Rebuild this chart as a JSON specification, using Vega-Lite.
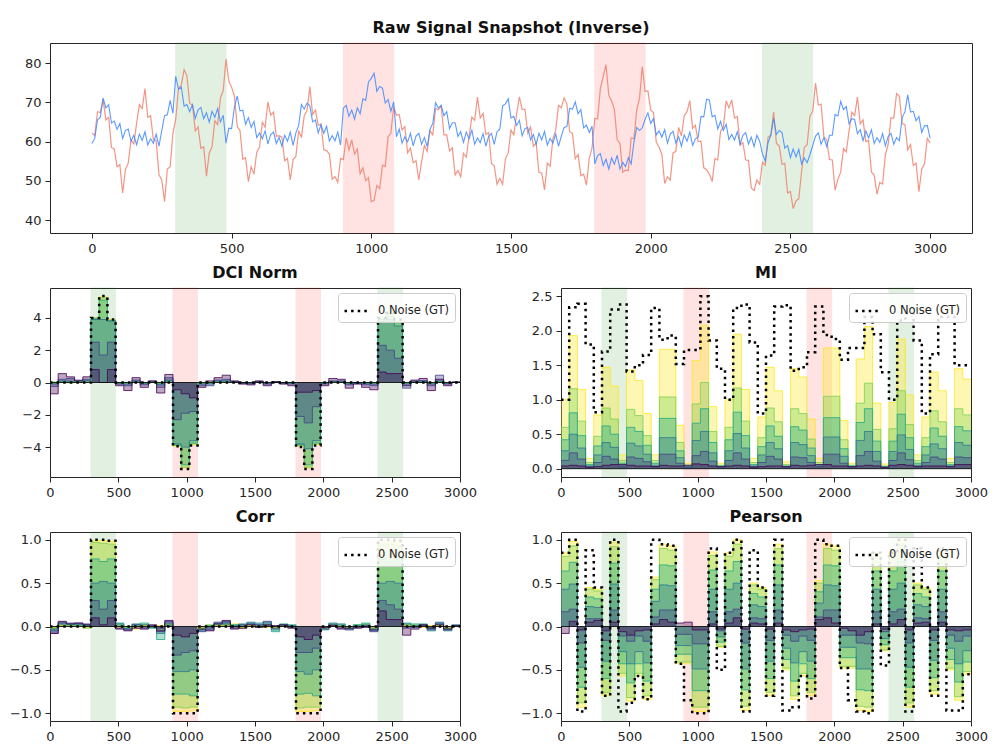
{
  "$schema": "https://vega.github.io/schema/vega-lite/v6.json",
  "padding": {"left": 6, "top": 19, "right": 5, "bottom": 5},
  "background": "white",
  "datasets": {
    "ev": [
      {"x0": 300, "x1": 480, "k": "g"},
      {"x0": 900, "x1": 1080, "k": "r"},
      {"x0": 1800, "x1": 1980, "k": "r"},
      {"x0": 2400, "x1": 2580, "k": "g"}
    ],
    "sig": [
      {"t":0,"r":62.2,"b":59.5},{"t":10,"r":61.5,"b":60.8},{"t":20,"r":67.6,"b":65.5},{"t":30,"r":67.4,"b":66.2},{"t":40,"r":70.6,"b":71.1},{"t":50,"r":65.5,"b":68.6},{"t":60,"r":66.2,"b":69.4},{"t":70,"r":58.5,"b":64.7},{"t":80,"r":58.1,"b":65.2},{"t":90,"r":53.6,"b":63.1},
      {"t":100,"r":54.1,"b":64.6},{"t":110,"r":46.9,"b":60.8},{"t":120,"r":52.9,"b":62.8},{"t":130,"r":54.5,"b":63.2},{"t":140,"r":60.4,"b":60.1},{"t":150,"r":59.4,"b":61.6},{"t":160,"r":64.7,"b":59.2},{"t":170,"r":69.4,"b":61.9},{"t":180,"r":68.4,"b":60.3},{"t":190,"r":73.5,"b":62.5},
      {"t":200,"r":66.2,"b":59.1},{"t":210,"r":66.6,"b":60.7},{"t":220,"r":60.5,"b":59.6},{"t":230,"r":60.2,"b":61.9},{"t":240,"r":51.5,"b":58.8},{"t":250,"r":50.2,"b":62.8},{"t":260,"r":44.7,"b":66.6},{"t":270,"r":53,"b":66.8},{"t":280,"r":53.6,"b":70.5},{"t":290,"r":62.1,"b":67.2},
      {"t":300,"r":65.7,"b":76.6},{"t":310,"r":73.5,"b":73.3},{"t":320,"r":74.4,"b":73.9},{"t":330,"r":78.3,"b":69},{"t":340,"r":76.8,"b":69.4},{"t":350,"r":69.7,"b":67.6},{"t":360,"r":69.3,"b":69.4},{"t":370,"r":62.7,"b":65.9},{"t":380,"r":63.7,"b":68.1},{"t":390,"r":58.3,"b":68.7},
      {"t":400,"r":58.7,"b":65.8},{"t":410,"r":51.2,"b":67.3},{"t":420,"r":57.1,"b":64.9},{"t":430,"r":58.7,"b":67.7},{"t":440,"r":65.3,"b":66.2},{"t":450,"r":64.3,"b":68.4},{"t":460,"r":71.1,"b":65},{"t":470,"r":73,"b":66.7},{"t":480,"r":81,"b":59.6},{"t":490,"r":75.4,"b":63.4},
      {"t":500,"r":73.8,"b":63.3},{"t":510,"r":71.6,"b":68.8},{"t":520,"r":63.8,"b":71.6},{"t":530,"r":62.8,"b":67.8},{"t":540,"r":55.5,"b":68},{"t":550,"r":55.9,"b":64.4},{"t":560,"r":49.8,"b":66.1},{"t":570,"r":53.6,"b":63.6},{"t":580,"r":51.7,"b":65.1},{"t":590,"r":57.3,"b":61},
      {"t":600,"r":58.6,"b":62.2},{"t":610,"r":64.9,"b":60.7},{"t":620,"r":63.6,"b":62.7},{"t":630,"r":70.1,"b":59.4},{"t":640,"r":66.7,"b":61.8},{"t":650,"r":67.5,"b":62.4},{"t":660,"r":61.3,"b":59.5},{"t":670,"r":61.5,"b":61.1},{"t":680,"r":61.1,"b":58.8},{"t":690,"r":55.1,"b":61.6},
      {"t":700,"r":55.7,"b":60.1},{"t":710,"r":50.2,"b":62.4},{"t":720,"r":55.4,"b":59},{"t":730,"r":56.2,"b":62.2},{"t":740,"r":62.8,"b":64.1},{"t":750,"r":61,"b":69.4},{"t":760,"r":66.6,"b":68.3},{"t":770,"r":67.9,"b":69.8},{"t":780,"r":74,"b":69.1},{"t":790,"r":66.9,"b":65},
      {"t":800,"r":68,"b":65.5},{"t":810,"r":64.1,"b":62.2},{"t":820,"r":64.5,"b":64.3},{"t":830,"r":57.9,"b":62.1},{"t":840,"r":57.7,"b":63.9},{"t":850,"r":56.8,"b":60.1},{"t":860,"r":50.4,"b":61.5},{"t":870,"r":51.1,"b":60.2},{"t":880,"r":49.6,"b":62.4},{"t":890,"r":55.7,"b":59.1},
      {"t":900,"r":55.4,"b":68.5},{"t":910,"r":60.9,"b":69.2},{"t":920,"r":57.9,"b":66.4},{"t":930,"r":60.4,"b":68},{"t":940,"r":56.8,"b":65.7},{"t":950,"r":58.1,"b":68.6},{"t":960,"r":51.8,"b":67.1},{"t":970,"r":53.3,"b":70.9},{"t":980,"r":50,"b":70.5},{"t":990,"r":50.8,"b":75.2},
      {"t":1000,"r":44.7,"b":76.1},{"t":1010,"r":45,"b":77.4},{"t":1020,"r":48.8,"b":72.8},{"t":1030,"r":48,"b":74},{"t":1040,"r":54,"b":73.6},{"t":1050,"r":53.7,"b":69.8},{"t":1060,"r":61.2,"b":70.7},{"t":1070,"r":62.1,"b":67.7},{"t":1080,"r":68.9,"b":70.1},{"t":1090,"r":66.7,"b":61.2},
      {"t":1100,"r":66.9,"b":63.2},{"t":1110,"r":62.9,"b":59.6},{"t":1120,"r":63.8,"b":61.2},{"t":1130,"r":57.1,"b":59.9},{"t":1140,"r":58.3,"b":62.1},{"t":1150,"r":54.6,"b":58.9},{"t":1160,"r":55.1,"b":61.4},{"t":1170,"r":50.2,"b":62.1},{"t":1180,"r":54.9,"b":59.3},{"t":1190,"r":59,"b":61},
      {"t":1200,"r":57.5,"b":58.7},{"t":1210,"r":62.7,"b":63.1},{"t":1220,"r":61.7,"b":64.6},{"t":1230,"r":68.4,"b":69.9},{"t":1240,"r":68.1,"b":68.5},{"t":1250,"r":69.1,"b":69.2},{"t":1260,"r":61.7,"b":66.6},{"t":1270,"r":61.7,"b":67.6},{"t":1280,"r":57.6,"b":63.3},{"t":1290,"r":58.4,"b":64.8},
      {"t":1300,"r":51.5,"b":64.8},{"t":1310,"r":52.6,"b":61.3},{"t":1320,"r":51,"b":62.5},{"t":1330,"r":57,"b":59.8},{"t":1340,"r":56,"b":62.4},{"t":1350,"r":61.4,"b":60.7},{"t":1360,"r":66.2,"b":62.9},{"t":1370,"r":65.4,"b":59.3},{"t":1380,"r":71.3,"b":60.9},{"t":1390,"r":66,"b":59.7},
      {"t":1400,"r":67.2,"b":62},{"t":1410,"r":61.8,"b":58.8},{"t":1420,"r":62.3,"b":61.3},{"t":1430,"r":54.4,"b":62.1},{"t":1440,"r":53.8,"b":59.3},{"t":1450,"r":49.1,"b":62.5},{"t":1460,"r":50.6,"b":63.2},{"t":1470,"r":49.1,"b":69.1},{"t":1480,"r":55.6,"b":69.6},{"t":1490,"r":57.1,"b":70.9},
      {"t":1500,"r":62.9,"b":66},{"t":1510,"r":61.7,"b":66.4},{"t":1520,"r":66.9,"b":64.1},{"t":1530,"r":71.4,"b":65.4},{"t":1540,"r":68.2,"b":61.5},{"t":1550,"r":68.2,"b":63.3},{"t":1560,"r":62.1,"b":63.6},{"t":1570,"r":63.7,"b":60.4},{"t":1580,"r":58.8,"b":61.8},{"t":1590,"r":59.7,"b":59.3},
      {"t":1600,"r":52.1,"b":62.1},{"t":1610,"r":52,"b":60.4},{"t":1620,"r":47.7,"b":62.6},{"t":1630,"r":54.5,"b":59.1},{"t":1640,"r":53.7,"b":60.8},{"t":1650,"r":60.7,"b":59.6},{"t":1660,"r":62.9,"b":61.9},{"t":1670,"r":69.2,"b":58.8},{"t":1680,"r":68.6,"b":61.3},{"t":1690,"r":71.1,"b":63.6},
      {"t":1700,"r":69.6,"b":63.8},{"t":1710,"r":62.5,"b":68.5},{"t":1720,"r":62.1,"b":68.2},{"t":1730,"r":55.6,"b":70.1},{"t":1740,"r":56.7,"b":67.1},{"t":1750,"r":51.3,"b":68.1},{"t":1760,"r":51.7,"b":63.5},{"t":1770,"r":48.9,"b":64.2},{"t":1780,"r":55.7,"b":62.3},{"t":1790,"r":58.3,"b":63.9},
      {"t":1800,"r":65.9,"b":54.3},{"t":1810,"r":65.8,"b":56.4},{"t":1820,"r":73.6,"b":56.9},{"t":1830,"r":76.5,"b":53.9},{"t":1840,"r":79.6,"b":55.5},{"t":1850,"r":71.8,"b":53},{"t":1860,"r":70.3,"b":55.8},{"t":1870,"r":68.2,"b":54.2},{"t":1880,"r":60.5,"b":56.5},{"t":1890,"r":59.5,"b":53},
      {"t":1900,"r":52.2,"b":54.7},{"t":1910,"r":52.7,"b":53.6},{"t":1920,"r":52.6,"b":55.9},{"t":1930,"r":60.9,"b":54.3},{"t":1940,"r":60.7,"b":59.8},{"t":1950,"r":68,"b":63.6},{"t":1960,"r":71,"b":62.8},{"t":1970,"r":79.1,"b":63.5},{"t":1980,"r":72.8,"b":65.7},{"t":1990,"r":72.9,"b":67.3},
      {"t":2000,"r":68,"b":64.6},{"t":2010,"r":67.4,"b":65.9},{"t":2020,"r":59.8,"b":61.7},{"t":2030,"r":58.6,"b":62.7},{"t":2040,"r":56.7,"b":61.1},{"t":2050,"r":49.3,"b":63},{"t":2060,"r":51,"b":59.6},{"t":2070,"r":50.2,"b":61.9},{"t":2080,"r":57.1,"b":62.6},{"t":2090,"r":57.5,"b":59.6},
      {"t":2100,"r":63.6,"b":61.2},{"t":2110,"r":61.4,"b":58.8},{"t":2120,"r":66.6,"b":61.7},{"t":2130,"r":67.6,"b":60.1},{"t":2140,"r":70.4,"b":62.4},{"t":2150,"r":63.3,"b":59},{"t":2160,"r":64.1,"b":60.7},{"t":2170,"r":60,"b":61.1},{"t":2180,"r":60.1,"b":66.4},{"t":2190,"r":53.3,"b":66.3},
      {"t":2200,"r":52.8,"b":70.8},{"t":2210,"r":51.7,"b":70.6},{"t":2220,"r":49.8,"b":66.3},{"t":2230,"r":55.7,"b":66.7},{"t":2240,"r":55.3,"b":63.2},{"t":2250,"r":62.7,"b":65.1},{"t":2260,"r":63.6,"b":62.8},{"t":2270,"r":70.3,"b":64.4},{"t":2280,"r":68.6,"b":60.5},{"t":2290,"r":70.6,"b":61.8},
      {"t":2300,"r":66,"b":60.4},{"t":2310,"r":66.4,"b":62.5},{"t":2320,"r":59.1,"b":59.3},{"t":2330,"r":59.7,"b":61.6},{"t":2340,"r":55.3,"b":62.3},{"t":2350,"r":55.2,"b":59.4},{"t":2360,"r":48.2,"b":61.1},{"t":2370,"r":47.5,"b":58.7},{"t":2380,"r":50.2,"b":61.6},{"t":2390,"r":49.1,"b":60.1},
      {"t":2400,"r":54.7,"b":56.9},{"t":2410,"r":54,"b":55},{"t":2420,"r":61.1,"b":59.7},{"t":2430,"r":61.7,"b":61.6},{"t":2440,"r":67.5,"b":65.9},{"t":2450,"r":59.5,"b":61.8},{"t":2460,"r":58.9,"b":62.8},{"t":2470,"r":54.2,"b":62.3},{"t":2480,"r":54.4,"b":58.3},{"t":2490,"r":46.9,"b":59},
      {"t":2500,"r":47.3,"b":55.9},{"t":2510,"r":42.9,"b":58.1},{"t":2520,"r":44.9,"b":56.1},{"t":2530,"r":45.4,"b":58},{"t":2540,"r":52.3,"b":54.3},{"t":2550,"r":58.5,"b":55.8},{"t":2560,"r":59.2,"b":54.6},{"t":2570,"r":66.5,"b":56.7},{"t":2580,"r":67.7,"b":59},{"t":2590,"r":74.9,"b":61.4},
      {"t":2600,"r":69.3,"b":62.2},{"t":2610,"r":69.5,"b":59.3},{"t":2620,"r":61.2,"b":61},{"t":2630,"r":60.4,"b":58.7},{"t":2640,"r":55.4,"b":61.6},{"t":2650,"r":55.3,"b":61.6},{"t":2660,"r":47.6,"b":66.9},{"t":2670,"r":50.4,"b":66.5},{"t":2680,"r":52.2,"b":70.2},{"t":2690,"r":58.2,"b":68.1},
      {"t":2700,"r":57.3,"b":68.9},{"t":2710,"r":62.7,"b":64.5},{"t":2720,"r":67.5,"b":65.8},{"t":2730,"r":66.6,"b":65.6},{"t":2740,"r":71.3,"b":62},{"t":2750,"r":64.5,"b":63},{"t":2760,"r":65.5,"b":60.2},{"t":2770,"r":60,"b":62.7},{"t":2780,"r":60.3,"b":60.9},{"t":2790,"r":52.2,"b":63},
      {"t":2800,"r":51.5,"b":59.5},{"t":2810,"r":46.6,"b":61},{"t":2820,"r":49.6,"b":59.8},{"t":2830,"r":49.2,"b":62},{"t":2840,"r":56.7,"b":58.9},{"t":2850,"r":59.3,"b":61.3},{"t":2860,"r":66.1,"b":62.1},{"t":2870,"r":66,"b":59.3},{"t":2880,"r":72.2,"b":61},{"t":2890,"r":71.5,"b":60.2},
      {"t":2900,"r":64.6,"b":66.1},{"t":2910,"r":64.3,"b":67.6},{"t":2920,"r":57.9,"b":71.9},{"t":2930,"r":59.2,"b":67.5},{"t":2940,"r":53.9,"b":67.7},{"t":2950,"r":54.5,"b":65.3},{"t":2960,"r":47.2,"b":66.4},{"t":2970,"r":52.9,"b":62.3},{"t":2980,"r":54.4,"b":64},{"t":2990,"r":60.8,"b":64.1},
      {"t":3000,"r":59.6,"b":60.8}
    ],
    "lv": [
      {"m":"D","x":0,"g":0,"a":-0.02,"b":0.03,"c":-0.05,"d":-0.1,"e":-0.25,"f":-0.7},
      {"m":"D","x":60,"g":0,"a":0.02,"b":0.04,"c":0.06,"d":0.1,"e":0.2,"f":0.55},
      {"m":"D","x":120,"g":0,"a":0.01,"b":-0.02,"c":0.05,"d":0.08,"e":0.25,"f":0.35},
      {"m":"D","x":180,"g":0,"a":0.02,"b":0.03,"c":0.04,"d":0.1,"e":0.15,"f":0.1},
      {"m":"D","x":240,"g":0,"a":0.03,"b":0.05,"c":0.08,"d":0.12,"e":0.2,"f":0.35},
      {"m":"D","x":300,"g":4,"a":4,"b":4,"c":3.95,"d":3.9,"e":2.5,"f":0.8},
      {"m":"D","x":360,"g":5.35,"a":5.3,"b":5.25,"c":5.1,"d":3.9,"e":1.7,"f":0},
      {"m":"D","x":420,"g":3.9,"a":3.9,"b":3.85,"c":3.85,"d":3.8,"e":2.5,"f":0.8},
      {"m":"D","x":480,"g":0,"a":-0.02,"b":-0.03,"c":-0.05,"d":-0.08,"e":-0.1,"f":-0.2},
      {"m":"D","x":540,"g":0,"a":-0.02,"b":-0.03,"c":-0.04,"d":-0.1,"e":-0.2,"f":-0.5},
      {"m":"D","x":600,"g":0,"a":0.01,"b":0.02,"c":0.04,"d":0.08,"e":0.15,"f":0.3},
      {"m":"D","x":660,"g":0,"a":-0.02,"b":-0.02,"c":-0.05,"d":-0.08,"e":-0.15,"f":-0.3},
      {"m":"D","x":720,"g":0,"a":0.01,"b":0.02,"c":0.03,"d":0.05,"e":0.08,"f":0.1},
      {"m":"D","x":780,"g":0,"a":-0.03,"b":-0.04,"c":-0.08,"d":-0.15,"e":-0.3,"f":-0.65},
      {"m":"D","x":840,"g":0,"a":0.02,"b":0.05,"c":0.1,"d":0.15,"e":0.3,"f":0.5},
      {"m":"D","x":900,"g":-3.95,"a":-3.95,"b":-3.9,"c":-3.85,"d":-3.8,"e":-2.3,"f":-0.45},
      {"m":"D","x":960,"g":-5.35,"a":-5.3,"b":-5.25,"c":-5.1,"d":-4,"e":-1.9,"f":-0.7},
      {"m":"D","x":1020,"g":-3.9,"a":-3.85,"b":-3.8,"c":-3.75,"d":-3.6,"e":-1.8,"f":-0.95},
      {"m":"D","x":1080,"g":0,"a":-0.02,"b":-0.03,"c":-0.05,"d":-0.1,"e":-0.2,"f":-0.3},
      {"m":"D","x":1140,"g":0,"a":0.01,"b":0.02,"c":-0.05,"d":-0.1,"e":-0.2,"f":0.1},
      {"m":"D","x":1200,"g":0,"a":0.02,"b":0.03,"c":0.05,"d":0.1,"e":0.15,"f":0.3},
      {"m":"D","x":1260,"g":0,"a":0.02,"b":0.04,"c":0.06,"d":0.1,"e":0.2,"f":0.45},
      {"m":"D","x":1320,"g":0,"a":0.01,"b":0.01,"c":0.02,"d":0.04,"e":0.05,"f":0.1},
      {"m":"D","x":1380,"g":0,"a":-0.01,"b":-0.01,"c":-0.02,"d":-0.04,"e":-0.05,"f":-0.1},
      {"m":"D","x":1440,"g":0,"a":-0.01,"b":-0.02,"c":-0.03,"d":-0.05,"e":-0.08,"f":-0.15},
      {"m":"D","x":1500,"g":0,"a":0.01,"b":0.01,"c":0.02,"d":0.03,"e":0.06,"f":0.1},
      {"m":"D","x":1560,"g":0,"a":-0.01,"b":-0.02,"c":-0.04,"d":-0.07,"e":-0.1,"f":-0.2},
      {"m":"D","x":1620,"g":0,"a":0.01,"b":0.01,"c":0.02,"d":0.02,"e":0.03,"f":0.05},
      {"m":"D","x":1680,"g":0,"a":-0.01,"b":-0.01,"c":-0.02,"d":-0.03,"e":-0.05,"f":-0.1},
      {"m":"D","x":1740,"g":0,"a":-0.01,"b":-0.02,"c":-0.03,"d":-0.05,"e":-0.1,"f":-0.2},
      {"m":"D","x":1800,"g":-4,"a":-3.95,"b":-3.9,"c":-3.85,"d":-3.8,"e":-2.1,"f":-0.6},
      {"m":"D","x":1860,"g":-5.35,"a":-5.3,"b":-5.25,"c":-5.1,"d":-4.1,"e":-2.5,"f":-0.6},
      {"m":"D","x":1920,"g":-3.9,"a":-3.85,"b":-3.8,"c":-3.75,"d":-3.6,"e":-1.5,"f":-0.5},
      {"m":"D","x":1980,"g":0,"a":-0.01,"b":-0.02,"c":-0.04,"d":-0.06,"e":-0.1,"f":-0.2},
      {"m":"D","x":2040,"g":0,"a":0.01,"b":0.02,"c":0.04,"d":0.06,"e":0.1,"f":0.25},
      {"m":"D","x":2100,"g":0,"a":0.01,"b":0.02,"c":0.03,"d":0.05,"e":0.1,"f":0.2},
      {"m":"D","x":2160,"g":0,"a":-0.02,"b":-0.03,"c":-0.05,"d":-0.08,"e":-0.15,"f":-0.35},
      {"m":"D","x":2220,"g":0,"a":-0.01,"b":-0.01,"c":-0.02,"d":-0.04,"e":-0.05,"f":-0.1},
      {"m":"D","x":2280,"g":0,"a":-0.01,"b":-0.02,"c":-0.04,"d":-0.07,"e":-0.15,"f":-0.3},
      {"m":"D","x":2340,"g":0,"a":-0.02,"b":-0.03,"c":-0.05,"d":-0.1,"e":-0.2,"f":-0.45},
      {"m":"D","x":2400,"g":4,"a":4,"b":3.95,"c":3.9,"d":3.8,"e":2.3,"f":0.65},
      {"m":"D","x":2460,"g":4.3,"a":4.25,"b":4.2,"c":4.1,"d":3.9,"e":2,"f":0.55},
      {"m":"D","x":2520,"g":3.9,"a":3.85,"b":3.8,"c":3.7,"d":3.5,"e":1.5,"f":0.55},
      {"m":"D","x":2580,"g":0,"a":-0.02,"b":-0.03,"c":-0.06,"d":-0.1,"e":-0.35,"f":-0.2},
      {"m":"D","x":2640,"g":0,"a":0.01,"b":0.02,"c":0.03,"d":0.05,"e":0.08,"f":0.15},
      {"m":"D","x":2700,"g":0,"a":0.01,"b":0.02,"c":0.04,"d":0.06,"e":0.12,"f":0.25},
      {"m":"D","x":2760,"g":0,"a":-0.02,"b":-0.03,"c":-0.05,"d":-0.1,"e":-0.2,"f":-0.5},
      {"m":"D","x":2820,"g":0,"a":0.02,"b":0.03,"c":0.06,"d":0.1,"e":0.45,"f":0.2},
      {"m":"D","x":2880,"g":0,"a":-0.01,"b":-0.02,"c":-0.03,"d":-0.05,"e":-0.1,"f":-0.2},
      {"m":"D","x":2940,"g":0,"a":0,"b":0,"c":0.01,"d":0.01,"e":0.02,"f":0.03},
      {"m":"D","x":3000,"g":0,"a":0,"b":0,"c":0.01,"d":0.01,"e":0.02,"f":0.03},

      {"m":"M","x":0,"g":1,"a":1,"b":0.6,"c":0.42,"d":0.26,"e":0.12,"f":0.04},
      {"m":"M","x":60,"g":2.34,"a":1.93,"b":1.16,"c":0.81,"d":0.5,"e":0.23,"f":0.05},
      {"m":"M","x":120,"g":2.39,"a":1.15,"b":0.69,"c":0.48,"d":0.3,"e":0.14,"f":0.04},
      {"m":"M","x":180,"g":1.8,"a":0.15,"b":0.09,"c":0.06,"d":0.04,"e":0.03,"f":0.02},
      {"m":"M","x":240,"g":0.82,"a":0.78,"b":0.47,"c":0.33,"d":0.2,"e":0.09,"f":0.03},
      {"m":"M","x":300,"g":1.7,"a":1.47,"b":0.88,"c":0.62,"d":0.38,"e":0.18,"f":0.05},
      {"m":"M","x":360,"g":2.31,"a":1.2,"b":0.72,"c":0.5,"d":0.31,"e":0.14,"f":0.06},
      {"m":"M","x":420,"g":2.38,"a":0.2,"b":0.12,"c":0.08,"d":0.05,"e":0.03,"f":0.06},
      {"m":"M","x":480,"g":1.41,"a":1.43,"b":0.86,"c":0.6,"d":0.37,"e":0.17,"f":0.05},
      {"m":"M","x":540,"g":1.5,"a":1.28,"b":0.77,"c":0.54,"d":0.33,"e":0.15,"f":0.04},
      {"m":"M","x":600,"g":1.65,"a":0.8,"b":0.48,"c":0.34,"d":0.21,"e":0.1,"f":0.04},
      {"m":"M","x":660,"g":2.33,"a":0.2,"b":0.12,"c":0.08,"d":0.05,"e":0.03,"f":0.03},
      {"m":"M","x":720,"g":1.87,"a":1.73,"b":1.04,"c":0.73,"d":0.45,"e":0.21,"f":0.05},
      {"m":"M","x":780,"g":1.93,"a":1.73,"b":1.04,"c":0.73,"d":0.45,"e":0.21,"f":0.04},
      {"m":"M","x":840,"g":1.52,"a":0.63,"b":0.38,"c":0.26,"d":0.16,"e":0.08,"f":0.04},
      {"m":"M","x":900,"g":1.72,"a":0.08,"b":0.05,"c":0.04,"d":0.03,"e":0.02,"f":0.05},
      {"m":"M","x":960,"g":1.72,"a":1.57,"b":0.94,"c":0.66,"d":0.41,"e":0.19,"f":0.07},
      {"m":"M","x":1020,"g":2.5,"a":2.08,"b":1.25,"c":0.87,"d":0.54,"e":0.25,"f":0.06},
      {"m":"M","x":1080,"g":1.86,"a":0.9,"b":0.54,"c":0.38,"d":0.23,"e":0.11,"f":0.04},
      {"m":"M","x":1140,"g":1.45,"a":0.08,"b":0.05,"c":0.04,"d":0.03,"e":0.02,"f":0.03},
      {"m":"M","x":1200,"g":1,"a":1,"b":0.6,"c":0.42,"d":0.26,"e":0.12,"f":0.04},
      {"m":"M","x":1260,"g":2.33,"a":1.95,"b":1.17,"c":0.82,"d":0.51,"e":0.23,"f":0.05},
      {"m":"M","x":1320,"g":2.38,"a":1.15,"b":0.69,"c":0.48,"d":0.3,"e":0.14,"f":0.04},
      {"m":"M","x":1380,"g":1.83,"a":0.15,"b":0.09,"c":0.06,"d":0.04,"e":0.03,"f":0.02},
      {"m":"M","x":1440,"g":0.8,"a":0.75,"b":0.45,"c":0.32,"d":0.2,"e":0.09,"f":0.03},
      {"m":"M","x":1500,"g":1.64,"a":1.47,"b":0.88,"c":0.62,"d":0.38,"e":0.18,"f":0.04},
      {"m":"M","x":1560,"g":2.35,"a":1.13,"b":0.68,"c":0.47,"d":0.29,"e":0.14,"f":0.04},
      {"m":"M","x":1620,"g":2.37,"a":0.1,"b":0.06,"c":0.04,"d":0.03,"e":0.02,"f":0.03},
      {"m":"M","x":1680,"g":1.42,"a":1.45,"b":0.87,"c":0.61,"d":0.38,"e":0.17,"f":0.05},
      {"m":"M","x":1740,"g":1.47,"a":1.33,"b":0.8,"c":0.56,"d":0.35,"e":0.16,"f":0.04},
      {"m":"M","x":1800,"g":1.69,"a":0.72,"b":0.43,"c":0.3,"d":0.19,"e":0.09,"f":0.05},
      {"m":"M","x":1860,"g":2.35,"a":0.15,"b":0.09,"c":0.06,"d":0.04,"e":0.03,"f":0.06},
      {"m":"M","x":1920,"g":1.94,"a":1.75,"b":1.05,"c":0.74,"d":0.46,"e":0.21,"f":0.06},
      {"m":"M","x":1980,"g":1.88,"a":1.75,"b":1.05,"c":0.74,"d":0.46,"e":0.21,"f":0.04},
      {"m":"M","x":2040,"g":1.58,"a":0.7,"b":0.42,"c":0.29,"d":0.18,"e":0.08,"f":0.04},
      {"m":"M","x":2100,"g":1.75,"a":0.08,"b":0.05,"c":0.04,"d":0.03,"e":0.02,"f":0.03},
      {"m":"M","x":2160,"g":1.75,"a":1.59,"b":0.95,"c":0.67,"d":0.41,"e":0.19,"f":0.04},
      {"m":"M","x":2220,"g":2.2,"a":2.06,"b":1.24,"c":0.87,"d":0.54,"e":0.25,"f":0.05},
      {"m":"M","x":2280,"g":1.95,"a":0.95,"b":0.57,"c":0.4,"d":0.25,"e":0.11,"f":0.04},
      {"m":"M","x":2340,"g":1.4,"a":0.07,"b":0.04,"c":0.03,"d":0.02,"e":0.02,"f":0.02},
      {"m":"M","x":2400,"g":1,"a":0.96,"b":0.58,"c":0.4,"d":0.25,"e":0.12,"f":0.05},
      {"m":"M","x":2460,"g":2.15,"a":1.88,"b":1.13,"c":0.79,"d":0.49,"e":0.23,"f":0.06},
      {"m":"M","x":2520,"g":2.25,"a":1.07,"b":0.64,"c":0.45,"d":0.28,"e":0.13,"f":0.05},
      {"m":"M","x":2580,"g":1.86,"a":0.2,"b":0.12,"c":0.08,"d":0.05,"e":0.03,"f":0.03},
      {"m":"M","x":2640,"g":0.8,"a":0.75,"b":0.45,"c":0.32,"d":0.2,"e":0.09,"f":0.04},
      {"m":"M","x":2700,"g":1.66,"a":1.4,"b":0.84,"c":0.59,"d":0.36,"e":0.17,"f":0.04},
      {"m":"M","x":2760,"g":2.2,"a":1.13,"b":0.68,"c":0.47,"d":0.29,"e":0.14,"f":0.04},
      {"m":"M","x":2820,"g":2.2,"a":0.15,"b":0.09,"c":0.06,"d":0.04,"e":0.03,"f":0.03},
      {"m":"M","x":2880,"g":1.5,"a":1.45,"b":0.87,"c":0.61,"d":0.38,"e":0.17,"f":0.06},
      {"m":"M","x":2940,"g":1.5,"a":1.3,"b":0.78,"c":0.55,"d":0.34,"e":0.16,"f":0.06},
      {"m":"M","x":3000,"g":1.5,"a":1.3,"b":0.78,"c":0.55,"d":0.34,"e":0.16,"f":0.06},

      {"m":"C","x":0,"g":0,"a":-0.01,"b":-0.02,"c":-0.03,"d":-0.05,"e":-0.08,"f":-0.08},
      {"m":"C","x":60,"g":0,"a":0.01,"b":0.02,"c":0.03,"d":0.04,"e":0.05,"f":0.06},
      {"m":"C","x":120,"g":0,"a":0.01,"b":0.01,"c":0.02,"d":0.03,"e":0.04,"f":0.03},
      {"m":"C","x":180,"g":0,"a":0,"b":0.01,"c":0.02,"d":0.03,"e":0.04,"f":0.04},
      {"m":"C","x":240,"g":0,"a":-0.01,"b":-0.02,"c":0.01,"d":0.02,"e":0.03,"f":0.02},
      {"m":"C","x":300,"g":1,"a":0.99,"b":0.97,"c":0.78,"d":0.5,"e":0.3,"f":0.1},
      {"m":"C","x":360,"g":1,"a":0.99,"b":0.96,"c":0.75,"d":0.52,"e":0.2,"f":0.02},
      {"m":"C","x":420,"g":0.99,"a":0.98,"b":0.95,"c":0.78,"d":0.5,"e":0.3,"f":0.1},
      {"m":"C","x":480,"g":0,"a":-0.01,"b":0.02,"c":0.04,"d":0.03,"e":-0.02,"f":-0.03},
      {"m":"C","x":540,"g":0,"a":-0.01,"b":-0.01,"c":-0.02,"d":-0.03,"e":-0.04,"f":-0.05},
      {"m":"C","x":600,"g":0,"a":-0.03,"b":0.01,"c":0.02,"d":0.03,"e":0.02,"f":-0.02},
      {"m":"C","x":660,"g":0,"a":0.01,"b":0.02,"c":0.04,"d":0.02,"e":-0.02,"f":-0.03},
      {"m":"C","x":720,"g":0,"a":0,"b":-0.01,"c":-0.02,"d":-0.01,"e":0.01,"f":0.02},
      {"m":"C","x":780,"g":0,"a":0.01,"b":-0.04,"c":-0.15,"d":-0.08,"e":-0.06,"f":-0.05},
      {"m":"C","x":840,"g":0,"a":0.02,"b":0.03,"c":0.02,"d":0.04,"e":0.06,"f":0.07},
      {"m":"C","x":900,"g":-1,"a":-0.98,"b":-0.93,"c":-0.78,"d":-0.52,"e":-0.33,"f":-0.1},
      {"m":"C","x":960,"g":-1,"a":-0.98,"b":-0.94,"c":-0.78,"d":-0.52,"e":-0.3,"f":-0.12},
      {"m":"C","x":1020,"g":-1,"a":-0.97,"b":-0.93,"c":-0.8,"d":-0.5,"e":-0.28,"f":-0.08},
      {"m":"C","x":1080,"g":0,"a":-0.01,"b":-0.02,"c":-0.04,"d":-0.05,"e":-0.06,"f":-0.03},
      {"m":"C","x":1140,"g":0,"a":0.01,"b":0.02,"c":0.01,"d":-0.02,"e":-0.04,"f":-0.05},
      {"m":"C","x":1200,"g":0,"a":0.01,"b":0.02,"c":0.03,"d":0.04,"e":0.05,"f":0.03},
      {"m":"C","x":1260,"g":0,"a":0.01,"b":0.02,"c":0.03,"d":0.05,"e":0.06,"f":0.07},
      {"m":"C","x":1320,"g":0,"a":0.03,"b":0.02,"c":0.02,"d":0.01,"e":-0.02,"f":-0.03},
      {"m":"C","x":1380,"g":0,"a":-0.01,"b":-0.02,"c":0.02,"d":0.03,"e":0.02,"f":-0.02},
      {"m":"C","x":1440,"g":0,"a":0.01,"b":0.02,"c":0.04,"d":0.05,"e":0.03,"f":0.02},
      {"m":"C","x":1500,"g":0,"a":0,"b":-0.01,"c":0.02,"d":0.04,"e":0.02,"f":-0.01},
      {"m":"C","x":1560,"g":0,"a":-0.01,"b":0.02,"c":0.03,"d":0.05,"e":0.06,"f":0.02},
      {"m":"C","x":1620,"g":0,"a":-0.01,"b":-0.02,"c":-0.06,"d":-0.04,"e":-0.02,"f":0.01},
      {"m":"C","x":1680,"g":0,"a":0.01,"b":0.02,"c":0.03,"d":0.02,"e":0.01,"f":0.02},
      {"m":"C","x":1740,"g":0,"a":-0.01,"b":-0.01,"c":0.02,"d":0.01,"e":-0.01,"f":-0.02},
      {"m":"C","x":1800,"g":-1,"a":-0.98,"b":-0.94,"c":-0.78,"d":-0.52,"e":-0.3,"f":-0.12},
      {"m":"C","x":1860,"g":-1,"a":-0.98,"b":-0.93,"c":-0.77,"d":-0.55,"e":-0.3,"f":-0.15},
      {"m":"C","x":1920,"g":-1,"a":-0.97,"b":-0.93,"c":-0.8,"d":-0.5,"e":-0.25,"f":-0.1},
      {"m":"C","x":1980,"g":0,"a":-0.01,"b":-0.02,"c":-0.04,"d":-0.02,"e":-0.03,"f":-0.01},
      {"m":"C","x":2040,"g":0,"a":0.01,"b":0.02,"c":0.03,"d":0.04,"e":0.02,"f":0.01},
      {"m":"C","x":2100,"g":0,"a":0,"b":0.01,"c":0.02,"d":0.03,"e":-0.02,"f":-0.03},
      {"m":"C","x":2160,"g":0,"a":-0.01,"b":-0.01,"c":-0.02,"d":-0.03,"e":-0.04,"f":-0.02},
      {"m":"C","x":2220,"g":0,"a":0.01,"b":0.02,"c":0.02,"d":0.01,"e":-0.01,"f":-0.02},
      {"m":"C","x":2280,"g":0,"a":0.02,"b":0.03,"c":0.04,"d":0.02,"e":0.01,"f":-0.01},
      {"m":"C","x":2340,"g":0,"a":-0.01,"b":-0.02,"c":-0.03,"d":-0.05,"e":-0.06,"f":-0.04},
      {"m":"C","x":2400,"g":1,"a":0.98,"b":0.95,"c":0.78,"d":0.5,"e":0.3,"f":0.18},
      {"m":"C","x":2460,"g":1,"a":0.98,"b":0.95,"c":0.75,"d":0.52,"e":0.25,"f":0.08},
      {"m":"C","x":2520,"g":0.99,"a":0.97,"b":0.93,"c":0.78,"d":0.5,"e":0.2,"f":0.08},
      {"m":"C","x":2580,"g":0,"a":0.01,"b":0.02,"c":0.04,"d":0.03,"e":-0.02,"f":-0.1},
      {"m":"C","x":2640,"g":0,"a":0.01,"b":0.02,"c":0.03,"d":0.01,"e":-0.01,"f":-0.03},
      {"m":"C","x":2700,"g":0,"a":-0.01,"b":0.02,"c":0.03,"d":0.02,"e":0.01,"f":0.02},
      {"m":"C","x":2760,"g":0,"a":0.01,"b":-0.02,"c":-0.04,"d":-0.05,"e":-0.03,"f":-0.02},
      {"m":"C","x":2820,"g":0,"a":0.01,"b":0.02,"c":0.03,"d":0.05,"e":0.04,"f":0.02},
      {"m":"C","x":2880,"g":0,"a":-0.01,"b":-0.02,"c":-0.03,"d":-0.05,"e":-0.04,"f":-0.03},
      {"m":"C","x":2940,"g":0,"a":0,"b":0.01,"c":0.01,"d":0.02,"e":0.01,"f":0.01},
      {"m":"C","x":3000,"g":0,"a":0,"b":0.01,"c":0.01,"d":0.02,"e":0.01,"f":0.01},

      {"m":"P","x":0,"g":0.85,"a":0.85,"b":0.81,"c":0.64,"d":0.43,"e":0.17,"f":-0.08},
      {"m":"P","x":60,"g":1,"a":0.98,"b":0.93,"c":0.74,"d":0.49,"e":0.2,"f":0.06},
      {"m":"P","x":120,"g":-0.98,"a":-0.93,"b":-0.88,"c":-0.7,"d":-0.47,"e":-0.19,"f":-0.04},
      {"m":"P","x":180,"g":0.88,"a":0.45,"b":0.43,"c":0.34,"d":0.23,"e":0.09,"f":0.05},
      {"m":"P","x":240,"g":0.45,"a":0.43,"b":0.41,"c":0.32,"d":0.22,"e":0.09,"f":0.07},
      {"m":"P","x":300,"g":-0.8,"a":-0.8,"b":-0.76,"c":-0.6,"d":-0.4,"e":-0.16,"f":-0.05},
      {"m":"P","x":360,"g":1,"a":0.97,"b":0.92,"c":0.73,"d":0.49,"e":0.19,"f":0.05},
      {"m":"P","x":420,"g":-0.98,"a":-0.57,"b":-0.54,"c":-0.43,"d":-0.29,"e":-0.11,"f":-0.06},
      {"m":"P","x":480,"g":-0.88,"a":-0.86,"b":-0.82,"c":-0.65,"d":-0.43,"e":-0.17,"f":-0.1},
      {"m":"P","x":540,"g":-0.57,"a":-0.57,"b":-0.54,"c":-0.43,"d":-0.29,"e":-0.11,"f":-0.05},
      {"m":"P","x":600,"g":-0.84,"a":-0.84,"b":-0.8,"c":-0.63,"d":-0.42,"e":-0.17,"f":-0.04},
      {"m":"P","x":660,"g":1,"a":0.57,"b":0.54,"c":0.43,"d":0.29,"e":0.11,"f":0.03},
      {"m":"P","x":720,"g":0.95,"a":0.95,"b":0.9,"c":0.71,"d":0.48,"e":0.19,"f":0.08},
      {"m":"P","x":780,"g":0.93,"a":0.93,"b":0.88,"c":0.7,"d":0.47,"e":0.19,"f":0.05},
      {"m":"P","x":840,"g":-0.43,"a":-0.43,"b":-0.41,"c":-0.32,"d":-0.22,"e":-0.09,"f":0.04},
      {"m":"P","x":900,"g":-0.85,"a":-0.43,"b":-0.41,"c":-0.32,"d":-0.22,"e":-0.09,"f":0.05},
      {"m":"P","x":960,"g":-1,"a":-0.98,"b":-0.93,"c":-0.74,"d":-0.49,"e":-0.2,"f":-0.04},
      {"m":"P","x":1020,"g":-1,"a":-0.98,"b":-0.93,"c":-0.74,"d":-0.49,"e":-0.2,"f":-0.04},
      {"m":"P","x":1080,"g":0.9,"a":0.86,"b":0.82,"c":0.65,"d":0.43,"e":0.17,"f":0.03},
      {"m":"P","x":1140,"g":-0.5,"a":-0.24,"b":-0.23,"c":-0.18,"d":-0.12,"e":-0.05,"f":-0.03},
      {"m":"P","x":1200,"g":0.85,"a":0.85,"b":0.81,"c":0.64,"d":0.43,"e":0.17,"f":0.04},
      {"m":"P","x":1260,"g":1,"a":1,"b":0.95,"c":0.75,"d":0.5,"e":0.2,"f":0.1},
      {"m":"P","x":1320,"g":-0.98,"a":-0.97,"b":-0.92,"c":-0.73,"d":-0.49,"e":-0.19,"f":-0.03},
      {"m":"P","x":1380,"g":0.88,"a":0.5,"b":0.48,"c":0.38,"d":0.25,"e":0.1,"f":0.04},
      {"m":"P","x":1440,"g":0.45,"a":0.45,"b":0.43,"c":0.34,"d":0.23,"e":0.09,"f":0.03},
      {"m":"P","x":1500,"g":-0.8,"a":-0.8,"b":-0.76,"c":-0.6,"d":-0.4,"e":-0.16,"f":-0.03},
      {"m":"P","x":1560,"g":1,"a":0.95,"b":0.9,"c":0.71,"d":0.48,"e":0.19,"f":0.04},
      {"m":"P","x":1620,"g":-0.97,"a":-0.5,"b":-0.48,"c":-0.38,"d":-0.25,"e":-0.1,"f":-0.04},
      {"m":"P","x":1680,"g":-0.93,"a":-0.84,"b":-0.8,"c":-0.63,"d":-0.42,"e":-0.17,"f":-0.06},
      {"m":"P","x":1740,"g":-0.57,"a":-0.57,"b":-0.54,"c":-0.43,"d":-0.29,"e":-0.11,"f":-0.04},
      {"m":"P","x":1800,"g":-0.83,"a":-0.8,"b":-0.76,"c":-0.6,"d":-0.4,"e":-0.16,"f":-0.03},
      {"m":"P","x":1860,"g":1,"a":0.53,"b":0.5,"c":0.4,"d":0.27,"e":0.11,"f":0.08},
      {"m":"P","x":1920,"g":0.95,"a":0.95,"b":0.9,"c":0.71,"d":0.48,"e":0.19,"f":0.1},
      {"m":"P","x":1980,"g":0.93,"a":0.93,"b":0.88,"c":0.7,"d":0.47,"e":0.19,"f":0.04},
      {"m":"P","x":2040,"g":-0.48,"a":-0.48,"b":-0.46,"c":-0.36,"d":-0.24,"e":-0.1,"f":-0.02},
      {"m":"P","x":2100,"g":-0.85,"a":-0.48,"b":-0.46,"c":-0.36,"d":-0.24,"e":-0.1,"f":-0.05},
      {"m":"P","x":2160,"g":-0.98,"a":-0.97,"b":-0.92,"c":-0.73,"d":-0.49,"e":-0.19,"f":-0.1},
      {"m":"P","x":2220,"g":-1,"a":-0.98,"b":-0.93,"c":-0.74,"d":-0.49,"e":-0.2,"f":-0.06},
      {"m":"P","x":2280,"g":0.85,"a":0.85,"b":0.81,"c":0.64,"d":0.43,"e":0.17,"f":0.03},
      {"m":"P","x":2340,"g":-0.45,"a":-0.28,"b":-0.27,"c":-0.21,"d":-0.14,"e":-0.06,"f":-0.03},
      {"m":"P","x":2400,"g":0.85,"a":0.85,"b":0.81,"c":0.64,"d":0.43,"e":0.17,"f":0.03},
      {"m":"P","x":2460,"g":1,"a":1,"b":0.95,"c":0.75,"d":0.5,"e":0.2,"f":0.08},
      {"m":"P","x":2520,"g":-0.98,"a":-0.93,"b":-0.88,"c":-0.7,"d":-0.47,"e":-0.19,"f":-0.04},
      {"m":"P","x":2580,"g":0.9,"a":0.5,"b":0.48,"c":0.38,"d":0.25,"e":0.1,"f":0.04},
      {"m":"P","x":2640,"g":0.45,"a":0.45,"b":0.43,"c":0.34,"d":0.23,"e":0.09,"f":0.05},
      {"m":"P","x":2700,"g":-0.8,"a":-0.78,"b":-0.74,"c":-0.59,"d":-0.39,"e":-0.16,"f":-0.04},
      {"m":"P","x":2760,"g":0.9,"a":0.85,"b":0.81,"c":0.64,"d":0.43,"e":0.17,"f":0.05},
      {"m":"P","x":2820,"g":-0.97,"a":-0.5,"b":-0.48,"c":-0.38,"d":-0.25,"e":-0.1,"f":-0.04},
      {"m":"P","x":2880,"g":-0.97,"a":-0.85,"b":-0.81,"c":-0.64,"d":-0.43,"e":-0.17,"f":-0.05},
      {"m":"P","x":2940,"g":-0.55,"a":-0.55,"b":-0.52,"c":-0.41,"d":-0.28,"e":-0.11,"f":-0.04},
      {"m":"P","x":3000,"g":-0.55,"a":-0.55,"b":-0.52,"c":-0.41,"d":-0.28,"e":-0.11,"f":-0.04}
    ]
  },
  "spacing": 5,
  "resolve": {"scale": {"strokeDash": "independent"}, "legend": {"strokeDash": "independent"}},
  "vconcat": [
    {
      "width": 922,
      "height": 190,
      "title": {"text": "Raw Signal Snapshot (Inverse)", "frame": "group"},
      "layer": [
        {
          "data": {"name": "ev"},
          "transform": [{"filter": "datum.k == 'g'"}],
          "mark": {"type": "rect", "color": "green", "stroke": "green", "strokeWidth": 1, "opacity": 0.11},
          "encoding": {
            "x": {"field": "x0", "type": "quantitative", "title": null, "scale": {"domain": [-150, 3150], "nice": false}, "axis": {"values": [0, 500, 1000, 1500, 2000, 2500, 3000], "format": "d"}},
            "x2": {"field": "x1"}
          }
        },
        {
          "data": {"name": "ev"},
          "transform": [{"filter": "datum.k == 'r'"}],
          "mark": {"type": "rect", "color": "red", "stroke": "red", "strokeWidth": 1, "opacity": 0.11},
          "encoding": {
            "x": {"field": "x0", "type": "quantitative", "title": null, "axis": {"values": [0, 500, 1000, 1500, 2000, 2500, 3000], "format": "d"}},
            "x2": {"field": "x1"}
          }
        },
        {
          "data": {"name": "sig"},
          "mark": {"type": "line", "color": "#ef7a66", "strokeWidth": 1.2, "opacity": 0.8},
          "encoding": {
            "x": {"field": "t", "type": "quantitative", "title": null, "axis": {"values": [0, 500, 1000, 1500, 2000, 2500, 3000], "format": "d"}},
            "y": {"field": "r", "type": "quantitative", "title": null, "scale": {"domain": [36.7, 85.1], "nice": false, "zero": false}, "axis": {"values": [40, 50, 60, 70, 80]}}
          }
        },
        {
          "data": {"name": "sig"},
          "mark": {"type": "line", "color": "#3f88ff", "strokeWidth": 1.1, "opacity": 0.85},
          "encoding": {
            "x": {"field": "t", "type": "quantitative", "title": null, "axis": {"values": [0, 500, 1000, 1500, 2000, 2500, 3000], "format": "d"}},
            "y": {"field": "b", "type": "quantitative", "title": null, "axis": {"values": [40, 50, 60, 70, 80]}}
          }
        }
      ]
    },
    {
      "spacing": 39,
      "resolve": {"scale": {"strokeDash": "independent"}, "legend": {"strokeDash": "independent"}},
      "hconcat": [
        {
          "width": 410,
          "height": 189,
          "title": {"text": "DCI Norm", "frame": "group"},
          "layer": [
            {"data": {"name": "ev"}, "transform": [{"filter": "datum.k == 'g'"}], "mark": {"type": "rect", "color": "green", "stroke": "green", "strokeWidth": 1, "opacity": 0.11}, "encoding": {"x": {"field": "x0", "type": "quantitative", "title": null, "axis": {"values": [0, 500, 1000, 1500, 2000, 2500, 3000], "format": "d"}}, "x2": {"field": "x1"}}},
            {"data": {"name": "ev"}, "transform": [{"filter": "datum.k == 'r'"}], "mark": {"type": "rect", "color": "red", "stroke": "red", "strokeWidth": 1, "opacity": 0.11}, "encoding": {"x": {"field": "x0", "type": "quantitative", "title": null, "axis": {"values": [0, 500, 1000, 1500, 2000, 2500, 3000], "format": "d"}}, "x2": {"field": "x1"}}},
            {
              "data": {"name": "lv"},
              "transform": [{"filter": "datum.m == 'D'"}, {"fold": ["a", "b", "c", "d", "e", "f"], "as": ["k", "v"]}],
              "mark": {"type": "area", "interpolate": "step-after", "opacity": 0.35},
              "encoding": {
                "x": {"field": "x", "type": "quantitative", "title": null, "scale": {"domain": [0, 3000], "nice": false}, "axis": {"values": [0, 500, 1000, 1500, 2000, 2500, 3000], "format": "d"}},
                "y": {"field": "v", "type": "quantitative", "title": null, "stack": null, "scale": {"domain": [-5.85, 5.85], "nice": false, "zero": false}, "axis": {"values": [-4, -2, 0, 2, 4], "format": "d"}},
                "y2": {"datum": 0},
                "color": {"field": "k", "type": "nominal", "scale": {"domain": ["a", "b", "c", "d", "e", "f"], "range": ["#fde725", "#7ad151", "#22a884", "#2a788e", "#414487", "#440154"]}, "legend": null}
              }
            },
            {
              "data": {"name": "lv"},
              "transform": [{"filter": "datum.m == 'D'"}, {"fold": ["a", "b", "c", "d", "e", "f"], "as": ["k", "v"]}],
              "mark": {"type": "line", "interpolate": "step-after", "strokeWidth": 1, "opacity": 0.8},
              "encoding": {
                "x": {"field": "x", "type": "quantitative", "title": null, "axis": {"values": [0, 500, 1000, 1500, 2000, 2500, 3000], "format": "d"}},
                "y": {"field": "v", "type": "quantitative", "title": null, "axis": {"values": [-4, -2, 0, 2, 4], "format": "d"}},
                "color": {"field": "k", "type": "nominal", "legend": null}
              }
            },
            {
              "data": {"name": "lv"},
              "transform": [{"filter": "datum.m == 'D'"}],
              "mark": {"type": "line", "interpolate": "step-after", "color": "black", "strokeWidth": 2.5},
              "encoding": {
                "x": {"field": "x", "type": "quantitative", "title": null, "axis": {"values": [0, 500, 1000, 1500, 2000, 2500, 3000], "format": "d"}},
                "y": {"field": "g", "type": "quantitative", "title": null, "axis": {"values": [-4, -2, 0, 2, 4], "format": "d"}},
                "strokeDash": {"datum": "0 Noise (GT)", "type": "nominal", "scale": {"range": [[2.5, 4.1]]}, "legend": {"title": null}}
              }
            },
            {"data": {"values": [{"y": 0}]}, "mark": {"type": "rule", "color": "black", "strokeWidth": 0.8}, "encoding": {"y": {"field": "y", "type": "quantitative", "title": null, "axis": {"values": [-4, -2, 0, 2, 4], "format": "d"}}}}
          ]
        },
        {
          "width": 410,
          "height": 189,
          "title": {"text": "MI", "frame": "group"},
          "layer": [
            {"data": {"name": "ev"}, "transform": [{"filter": "datum.k == 'g'"}], "mark": {"type": "rect", "color": "green", "stroke": "green", "strokeWidth": 1, "opacity": 0.11}, "encoding": {"x": {"field": "x0", "type": "quantitative", "title": null, "axis": {"values": [0, 500, 1000, 1500, 2000, 2500, 3000], "format": "d"}}, "x2": {"field": "x1"}}},
            {"data": {"name": "ev"}, "transform": [{"filter": "datum.k == 'r'"}], "mark": {"type": "rect", "color": "red", "stroke": "red", "strokeWidth": 1, "opacity": 0.11}, "encoding": {"x": {"field": "x0", "type": "quantitative", "title": null, "axis": {"values": [0, 500, 1000, 1500, 2000, 2500, 3000], "format": "d"}}, "x2": {"field": "x1"}}},
            {
              "data": {"name": "lv"},
              "transform": [{"filter": "datum.m == 'M'"}, {"fold": ["a", "b", "c", "d", "e", "f"], "as": ["k", "v"]}],
              "mark": {"type": "area", "interpolate": "step-after", "opacity": 0.35},
              "encoding": {
                "x": {"field": "x", "type": "quantitative", "title": null, "scale": {"domain": [0, 3000], "nice": false}, "axis": {"values": [0, 500, 1000, 1500, 2000, 2500, 3000], "format": "d"}},
                "y": {"field": "v", "type": "quantitative", "title": null, "stack": null, "scale": {"domain": [-0.12, 2.62], "nice": false, "zero": false}, "axis": {"values": [0, 0.5, 1, 1.5, 2, 2.5], "format": ".1f", "labelOverlap": false}},
                "y2": {"datum": 0},
                "color": {"field": "k", "type": "nominal", "legend": null}
              }
            },
            {
              "data": {"name": "lv"},
              "transform": [{"filter": "datum.m == 'M'"}, {"fold": ["a", "b", "c", "d", "e", "f"], "as": ["k", "v"]}],
              "mark": {"type": "line", "interpolate": "step-after", "strokeWidth": 1, "opacity": 0.8},
              "encoding": {
                "x": {"field": "x", "type": "quantitative", "title": null, "axis": {"values": [0, 500, 1000, 1500, 2000, 2500, 3000], "format": "d"}},
                "y": {"field": "v", "type": "quantitative", "title": null, "axis": {"values": [0, 0.5, 1, 1.5, 2, 2.5], "format": ".1f", "labelOverlap": false}},
                "color": {"field": "k", "type": "nominal", "legend": null}
              }
            },
            {
              "data": {"name": "lv"},
              "transform": [{"filter": "datum.m == 'M'"}],
              "mark": {"type": "line", "interpolate": "step-after", "color": "black", "strokeWidth": 2.5},
              "encoding": {
                "x": {"field": "x", "type": "quantitative", "title": null, "axis": {"values": [0, 500, 1000, 1500, 2000, 2500, 3000], "format": "d"}},
                "y": {"field": "g", "type": "quantitative", "title": null, "axis": {"values": [0, 0.5, 1, 1.5, 2, 2.5], "format": ".1f", "labelOverlap": false}},
                "strokeDash": {"datum": "0 Noise (GT)", "type": "nominal", "scale": {"range": [[2.5, 4.1]]}, "legend": {"title": null}}
              }
            },
            {"data": {"values": [{"y": 0}]}, "mark": {"type": "rule", "color": "black", "strokeWidth": 0.8}, "encoding": {"y": {"field": "y", "type": "quantitative", "title": null, "axis": {"values": [0, 0.5, 1, 1.5, 2, 2.5], "format": ".1f", "labelOverlap": false}}}}
          ]
        }
      ]
    },
    {
      "spacing": 39,
      "resolve": {"scale": {"strokeDash": "independent"}, "legend": {"strokeDash": "independent"}},
      "hconcat": [
        {
          "width": 410,
          "height": 189,
          "title": {"text": "Corr", "frame": "group"},
          "layer": [
            {"data": {"name": "ev"}, "transform": [{"filter": "datum.k == 'g'"}], "mark": {"type": "rect", "color": "green", "stroke": "green", "strokeWidth": 1, "opacity": 0.11}, "encoding": {"x": {"field": "x0", "type": "quantitative", "title": null, "axis": {"values": [0, 500, 1000, 1500, 2000, 2500, 3000], "format": "d"}}, "x2": {"field": "x1"}}},
            {"data": {"name": "ev"}, "transform": [{"filter": "datum.k == 'r'"}], "mark": {"type": "rect", "color": "red", "stroke": "red", "strokeWidth": 1, "opacity": 0.11}, "encoding": {"x": {"field": "x0", "type": "quantitative", "title": null, "axis": {"values": [0, 500, 1000, 1500, 2000, 2500, 3000], "format": "d"}}, "x2": {"field": "x1"}}},
            {
              "data": {"name": "lv"},
              "transform": [{"filter": "datum.m == 'C'"}, {"fold": ["a", "b", "c", "d", "e", "f"], "as": ["k", "v"]}],
              "mark": {"type": "area", "interpolate": "step-after", "opacity": 0.35},
              "encoding": {
                "x": {"field": "x", "type": "quantitative", "title": null, "scale": {"domain": [0, 3000], "nice": false}, "axis": {"values": [0, 500, 1000, 1500, 2000, 2500, 3000], "format": "d"}},
                "y": {"field": "v", "type": "quantitative", "title": null, "stack": null, "scale": {"domain": [-1.09, 1.09], "nice": false, "zero": false}, "axis": {"values": [-1, -0.5, 0, 0.5, 1], "format": ".1f", "labelOverlap": false}},
                "y2": {"datum": 0},
                "color": {"field": "k", "type": "nominal", "legend": null}
              }
            },
            {
              "data": {"name": "lv"},
              "transform": [{"filter": "datum.m == 'C'"}, {"fold": ["a", "b", "c", "d", "e", "f"], "as": ["k", "v"]}],
              "mark": {"type": "line", "interpolate": "step-after", "strokeWidth": 1, "opacity": 0.8},
              "encoding": {
                "x": {"field": "x", "type": "quantitative", "title": null, "axis": {"values": [0, 500, 1000, 1500, 2000, 2500, 3000], "format": "d"}},
                "y": {"field": "v", "type": "quantitative", "title": null, "axis": {"values": [-1, -0.5, 0, 0.5, 1], "format": ".1f", "labelOverlap": false}},
                "color": {"field": "k", "type": "nominal", "legend": null}
              }
            },
            {
              "data": {"name": "lv"},
              "transform": [{"filter": "datum.m == 'C'"}],
              "mark": {"type": "line", "interpolate": "step-after", "color": "black", "strokeWidth": 2.5},
              "encoding": {
                "x": {"field": "x", "type": "quantitative", "title": null, "axis": {"values": [0, 500, 1000, 1500, 2000, 2500, 3000], "format": "d"}},
                "y": {"field": "g", "type": "quantitative", "title": null, "axis": {"values": [-1, -0.5, 0, 0.5, 1], "format": ".1f", "labelOverlap": false}},
                "strokeDash": {"datum": "0 Noise (GT)", "type": "nominal", "scale": {"range": [[2.5, 4.1]]}, "legend": {"title": null}}
              }
            },
            {"data": {"values": [{"y": 0}]}, "mark": {"type": "rule", "color": "black", "strokeWidth": 0.8}, "encoding": {"y": {"field": "y", "type": "quantitative", "title": null, "axis": {"values": [-1, -0.5, 0, 0.5, 1], "format": ".1f", "labelOverlap": false}}}}
          ]
        },
        {
          "width": 410,
          "height": 189,
          "title": {"text": "Pearson", "frame": "group"},
          "layer": [
            {"data": {"name": "ev"}, "transform": [{"filter": "datum.k == 'g'"}], "mark": {"type": "rect", "color": "green", "stroke": "green", "strokeWidth": 1, "opacity": 0.11}, "encoding": {"x": {"field": "x0", "type": "quantitative", "title": null, "axis": {"values": [0, 500, 1000, 1500, 2000, 2500, 3000], "format": "d"}}, "x2": {"field": "x1"}}},
            {"data": {"name": "ev"}, "transform": [{"filter": "datum.k == 'r'"}], "mark": {"type": "rect", "color": "red", "stroke": "red", "strokeWidth": 1, "opacity": 0.11}, "encoding": {"x": {"field": "x0", "type": "quantitative", "title": null, "axis": {"values": [0, 500, 1000, 1500, 2000, 2500, 3000], "format": "d"}}, "x2": {"field": "x1"}}},
            {
              "data": {"name": "lv"},
              "transform": [{"filter": "datum.m == 'P'"}, {"fold": ["a", "b", "c", "d", "e", "f"], "as": ["k", "v"]}],
              "mark": {"type": "area", "interpolate": "step-after", "opacity": 0.35},
              "encoding": {
                "x": {"field": "x", "type": "quantitative", "title": null, "scale": {"domain": [0, 3000], "nice": false}, "axis": {"values": [0, 500, 1000, 1500, 2000, 2500, 3000], "format": "d"}},
                "y": {"field": "v", "type": "quantitative", "title": null, "stack": null, "scale": {"domain": [-1.09, 1.09], "nice": false, "zero": false}, "axis": {"values": [-1, -0.5, 0, 0.5, 1], "format": ".1f", "labelOverlap": false}},
                "y2": {"datum": 0},
                "color": {"field": "k", "type": "nominal", "legend": null}
              }
            },
            {
              "data": {"name": "lv"},
              "transform": [{"filter": "datum.m == 'P'"}, {"fold": ["a", "b", "c", "d", "e", "f"], "as": ["k", "v"]}],
              "mark": {"type": "line", "interpolate": "step-after", "strokeWidth": 1, "opacity": 0.8},
              "encoding": {
                "x": {"field": "x", "type": "quantitative", "title": null, "axis": {"values": [0, 500, 1000, 1500, 2000, 2500, 3000], "format": "d"}},
                "y": {"field": "v", "type": "quantitative", "title": null, "axis": {"values": [-1, -0.5, 0, 0.5, 1], "format": ".1f", "labelOverlap": false}},
                "color": {"field": "k", "type": "nominal", "legend": null}
              }
            },
            {
              "data": {"name": "lv"},
              "transform": [{"filter": "datum.m == 'P'"}],
              "mark": {"type": "line", "interpolate": "step-after", "color": "black", "strokeWidth": 2.5},
              "encoding": {
                "x": {"field": "x", "type": "quantitative", "title": null, "axis": {"values": [0, 500, 1000, 1500, 2000, 2500, 3000], "format": "d"}},
                "y": {"field": "g", "type": "quantitative", "title": null, "axis": {"values": [-1, -0.5, 0, 0.5, 1], "format": ".1f", "labelOverlap": false}},
                "strokeDash": {"datum": "0 Noise (GT)", "type": "nominal", "scale": {"range": [[2.5, 4.1]]}, "legend": {"title": null}}
              }
            },
            {"data": {"values": [{"y": 0}]}, "mark": {"type": "rule", "color": "black", "strokeWidth": 0.8}, "encoding": {"y": {"field": "y", "type": "quantitative", "title": null, "axis": {"values": [-1, -0.5, 0, 0.5, 1], "format": ".1f", "labelOverlap": false}}}}
          ]
        }
      ]
    }
  ],
  "config": {
    "font": "DejaVu Sans",
    "view": {"stroke": "#262626", "strokeWidth": 1},
    "axis": {"grid": false, "domain": false, "tickSize": 5, "tickColor": "#262626", "tickWidth": 1, "labelFontSize": 13, "labelColor": "#262626", "labelPadding": 4, "labelFlush": false, "labelOverlap": false, "labelBound": false},
    "axisY": {"minExtent": 43, "maxExtent": 43},
    "axisX": {"minExtent": 25, "maxExtent": 25},
    "title": {"fontSize": 16, "fontWeight": "bold", "color": "#111111", "offset": 7},
    "legend": {"orient": "top-right", "offset": 5, "padding": 5, "fillColor": "rgba(255,255,255,0.85)", "strokeColor": "#cccccc", "cornerRadius": 3, "labelFontSize": 11.5, "labelColor": "#222222", "symbolType": "stroke", "symbolStrokeColor": "black", "symbolStrokeWidth": 2.5, "symbolSize": 529, "symbolDash": [2.5, 4.1], "labelOffset": 9}
  }
}
